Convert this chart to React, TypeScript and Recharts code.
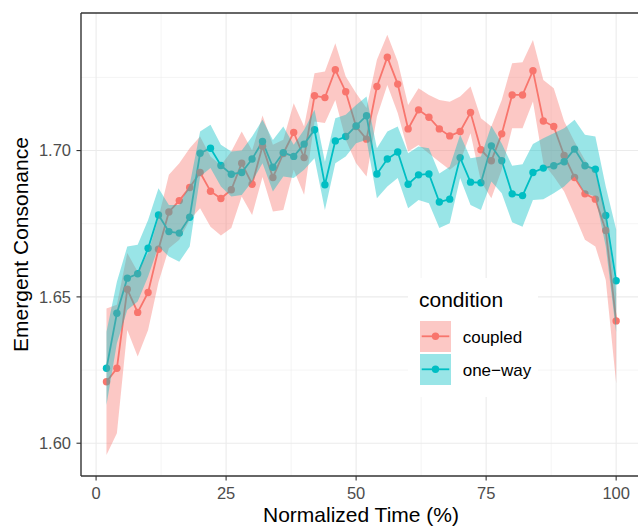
import React from 'react';
import {
  ComposedChart,
  Line,
  Area,
  XAxis,
  YAxis,
  CartesianGrid,
  ReferenceLine,
  Legend,
} from 'recharts';

const RED = '#F8766D';
const TEAL = '#00BFC4';
const FONT = '"Liberation Sans", Arial, Helvetica, sans-serif';

// Normalized time (%)
const times = [
  2, 4, 6, 8, 10, 12, 14, 16, 18, 20, 22, 24, 26, 28, 30, 32, 34, 36, 38, 40, 42, 44, 46, 48, 50,
  52, 54, 56, 58, 60, 62, 64, 66, 68, 70, 72, 74, 76, 78, 80, 82, 84, 86, 88, 90, 92, 94, 96, 98, 100,
];

const coupledMean = [
  1.621, 1.6256, 1.6526, 1.6447, 1.6515, 1.6663, 1.679, 1.6829, 1.6874, 1.6925, 1.6861, 1.6836,
  1.6866, 1.6957, 1.6885, 1.7015, 1.6908, 1.699, 1.7062, 1.6976, 1.7187, 1.7181, 1.7276, 1.7201,
  1.7082, 1.7039, 1.7219, 1.7319, 1.7227, 1.7074, 1.7139, 1.7114, 1.7074, 1.705, 1.7065, 1.713,
  1.7003, 1.6965, 1.7057, 1.719, 1.719, 1.7273, 1.7101, 1.7082, 1.6983, 1.6908, 1.6852, 1.6834,
  1.6727, 1.6418,
];
const coupledLo = [
  1.596, 1.6034, 1.6387, 1.6296, 1.6387, 1.655, 1.6666, 1.6695, 1.6763, 1.6803, 1.674, 1.671,
  1.6735, 1.6843, 1.678, 1.691, 1.6792, 1.6797, 1.6934, 1.6849, 1.7099, 1.7094, 1.7173, 1.7037,
  1.6957, 1.6911, 1.7116, 1.7224, 1.7128, 1.6997, 1.7019, 1.699, 1.6962, 1.6934, 1.6962, 1.7059,
  1.6894, 1.6837, 1.6934, 1.7076, 1.7076, 1.7168, 1.6957, 1.6911, 1.686, 1.678, 1.6695, 1.6672,
  1.6558, 1.6205,
];
const coupledHi = [
  1.646, 1.6473, 1.665, 1.6586, 1.665, 1.677, 1.6917, 1.6957, 1.7008, 1.7048, 1.698, 1.695,
  1.6997, 1.7065, 1.7, 1.712, 1.702, 1.7037, 1.7162, 1.7082, 1.7264, 1.727, 1.7367, 1.7253,
  1.7196, 1.7145, 1.731, 1.7396, 1.7304, 1.7156, 1.7213, 1.719, 1.7173, 1.7167, 1.7185, 1.7219,
  1.711, 1.7082, 1.7173, 1.7298, 1.7302, 1.7378, 1.7241, 1.7213, 1.71, 1.703, 1.6968, 1.6923,
  1.6786, 1.6512,
];

const onewayMean = [
  1.6256, 1.6444, 1.6564, 1.6579, 1.6666, 1.678, 1.6723, 1.6718, 1.6772, 1.6991, 1.7008, 1.6949,
  1.6919, 1.6925, 1.6971, 1.7031, 1.6943, 1.6993, 1.698, 1.7022, 1.7071, 1.6883, 1.7033, 1.7048,
  1.7084, 1.7119, 1.692, 1.6971, 1.6995, 1.6885, 1.6917, 1.692, 1.6824, 1.6834, 1.6976, 1.6892,
  1.689, 1.7016, 1.6965, 1.6852, 1.6846, 1.6925, 1.694, 1.6948, 1.6962, 1.7005, 1.6948, 1.6936,
  1.6778, 1.6555,
];
const onewayLo = [
  1.6131, 1.6342, 1.6455, 1.6484, 1.657, 1.6672, 1.6638, 1.662, 1.6672, 1.6911, 1.694, 1.6877,
  1.6843, 1.6848, 1.6894, 1.6957, 1.686, 1.6911, 1.6906, 1.6934, 1.6974, 1.6797, 1.6957, 1.698,
  1.7025, 1.7037, 1.6837, 1.6877, 1.6906, 1.6803, 1.6831, 1.682, 1.6735, 1.6752, 1.6906, 1.6814,
  1.6797, 1.6894, 1.6854, 1.6755, 1.674, 1.6831, 1.6834, 1.6854, 1.6877, 1.6911, 1.6854, 1.6843,
  1.6672, 1.638,
];
const onewayHi = [
  1.6381, 1.6552, 1.6672, 1.6678, 1.6763, 1.6871, 1.6814, 1.6814, 1.6883, 1.7065, 1.7088, 1.702,
  1.6997, 1.7, 1.7048, 1.7105, 1.7036, 1.7082, 1.702, 1.7071, 1.7139, 1.6962, 1.711, 1.7122,
  1.7156, 1.7185, 1.7008, 1.7065, 1.7082, 1.6991, 1.7014, 1.7008, 1.6922, 1.6945, 1.7054, 1.6974,
  1.698, 1.7085, 1.7024, 1.6948, 1.6953, 1.7022, 1.7042, 1.7059, 1.7076, 1.7105, 1.7054, 1.7048,
  1.6877, 1.673,
];

const xTicks = [0, 25, 50, 75, 100];
const xMinor = [12.5, 37.5, 62.5, 87.5];
const yTicks = [1.6, 1.65, 1.7];
const yMinor = [1.625, 1.675, 1.725];
const conditions = ['coupled', 'one\u2212way'];
const conditionColors = [RED, TEAL];

const X_DOMAIN: [number, number] = [-2.9, 104.2];
const Y_DOMAIN: [number, number] = [1.5888, 1.747];

const data = times.map((t, i) => ({
  t,
  coupled: coupledMean[i],
  oneway: onewayMean[i],
  coupledCI: [coupledLo[i], coupledHi[i]],
  onewayCI: [onewayLo[i], onewayHi[i]],
}));

const XTick = (props: any) => {
  const { x, y, payload } = props;
  return (
    <text x={x} y={y} dy={18.5} textAnchor="middle" fill="#4D4D4D" fontSize={16.5} fontFamily={FONT}>
      {payload.value}
    </text>
  );
};

const YTick = (props: any) => {
  const { x, y, payload } = props;
  return (
    <text x={x} y={y} dx={-5.5} dy="0.36em" textAnchor="end" fill="#4D4D4D" fontSize={16.5} fontFamily={FONT}>
      {Number(payload.value).toFixed(2)}
    </text>
  );
};

const XTitle = () => (
  <text x={361} y={522} textAnchor="middle" fill="#000" fontSize={21} fontFamily={FONT}>
    Normalized Time (%)
  </text>
);

const YTitle = (props: any) => {
  const vb = props.viewBox || { y: 13, height: 463 };
  const cy = vb.y + vb.height / 2;
  const cx = 28;
  return (
    <text
      x={cx}
      y={cy}
      transform={`rotate(-90, ${cx}, ${cy})`}
      textAnchor="middle"
      fill="#000"
      fontSize={21}
      fontFamily={FONT}
    >
      Emergent Consonance
    </text>
  );
};

const LegendBox = () => (
  <div style={{ width: 130, height: 119, background: '#fff' }}>
    <svg width={130} height={119} style={{ display: 'block' }}>
      <text x={11} y={29.3} fontSize={21} fontFamily={FONT} fill="#000">
        condition
      </text>
      {conditions.map((name, i) => {
        const top = 43 + i * 33;
        const cy = top + 15.3;
        return (
          <g key={name}>
            <line x1={13.7} x2={41.3} y1={cy} y2={cy} stroke={conditionColors[i]} strokeWidth={1.8} />
            <circle cx={27.5} cy={cy} r={3.7} fill={conditionColors[i]} />
            <rect x={12} y={top} width={31} height={31} fill={conditionColors[i]} fillOpacity={0.4} />
            <text x={54.7} y={top + 22.3} fontSize={17} fontFamily={FONT} fill="#000">
              {name}
            </text>
          </g>
        );
      })}
    </svg>
  </div>
);

export default function App() {
  return (
    <div style={{ position: 'absolute', left: 0, top: 0, width: 638, height: 527, background: '#fff' }}>
      {/* Base layer: grid, axes, lines + points, legend */}
      <div style={{ position: 'absolute', left: 0, top: 0 }}>
        <ComposedChart width={638} height={527} data={data} margin={{ top: 13, right: 0, bottom: 0, left: 0 }}>
          <CartesianGrid stroke="#EBEBEB" strokeWidth={0.55} horizontalValues={yMinor} verticalValues={xMinor} />
          <CartesianGrid stroke="#EBEBEB" strokeWidth={1.1} horizontalValues={yTicks} verticalValues={xTicks} />
          <XAxis
            type="number"
            dataKey="t"
            domain={X_DOMAIN}
            ticks={xTicks}
            allowDataOverflow
            height={51}
            tickSize={4.5}
            tickMargin={0}
            tickLine={{ stroke: '#333333', strokeWidth: 1.1 }}
            axisLine={{ stroke: '#333333', strokeWidth: 1.4 }}
            tick={<XTick />}
            label={<XTitle />}
          />
          <YAxis
            type="number"
            domain={Y_DOMAIN}
            ticks={yTicks}
            allowDataOverflow
            width={81}
            tickSize={4.5}
            tickMargin={0}
            tickLine={{ stroke: '#333333', strokeWidth: 1.1 }}
            axisLine={{ stroke: '#333333', strokeWidth: 1.4 }}
            tick={<YTick />}
            label={<YTitle />}
          />
          <Line
            dataKey="coupled"
            type="linear"
            stroke={RED}
            strokeWidth={1.8}
            dot={{ r: 3.7, fill: RED, stroke: RED, strokeWidth: 0 }}
            activeDot={false}
            isAnimationActive={false}
          />
          <Line
            dataKey="oneway"
            type="linear"
            stroke={TEAL}
            strokeWidth={1.8}
            dot={{ r: 3.7, fill: TEAL, stroke: TEAL, strokeWidth: 0 }}
            activeDot={false}
            isAnimationActive={false}
          />
          <ReferenceLine y={Y_DOMAIN[1]} stroke="#333333" strokeWidth={1.4} />
          <Legend
            verticalAlign="middle"
            layout="horizontal"
            content={<LegendBox />}
            wrapperStyle={{ left: 408, top: 278, width: 130, height: 119, margin: 0, padding: 0 }}
          />
        </ComposedChart>
      </div>
      {/* Top layer: confidence ribbons drawn over lines and points */}
      <div style={{ position: 'absolute', left: 0, top: 0, pointerEvents: 'none' }}>
        <ComposedChart width={638} height={527} data={data} margin={{ top: 13, right: 0, bottom: 51, left: 81 }}>
          <XAxis type="number" dataKey="t" domain={X_DOMAIN} allowDataOverflow hide />
          <YAxis type="number" domain={Y_DOMAIN} allowDataOverflow hide />
          <Area
            dataKey="coupledCI"
            type="linear"
            stroke="none"
            fill={RED}
            fillOpacity={0.4}
            activeDot={false}
            dot={false}
            isAnimationActive={false}
          />
          <Area
            dataKey="onewayCI"
            type="linear"
            stroke="none"
            fill={TEAL}
            fillOpacity={0.4}
            activeDot={false}
            dot={false}
            isAnimationActive={false}
          />
        </ComposedChart>
      </div>
    </div>
  );
}
